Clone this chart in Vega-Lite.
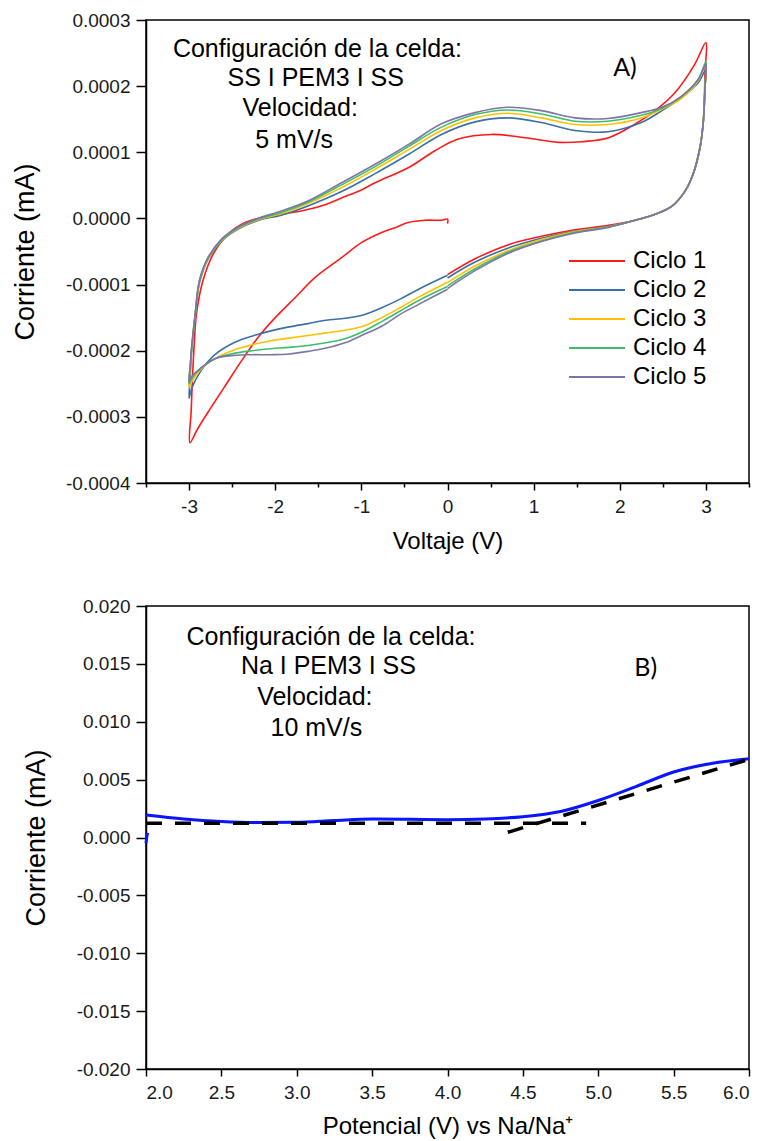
{
  "$schema": "https://vega.github.io/schema/vega-lite/v6.json",
  "background": "white",
  "padding": {"left": 10, "top": 10, "right": 10, "bottom": 0},
  "spacing": 42,
  "config": {
    "view": {"stroke": "#000", "strokeWidth": 1.5},
    "axis": {"grid": false, "domainColor": "#000", "domainWidth": 1.5, "tickColor": "#000", "tickWidth": 1.5, "labelColor": "#1a1a1a", "labelFont": "Liberation Sans", "labelFontSize": 19, "titleFont": "Liberation Sans", "titleFontWeight": "normal", "titleColor": "#000"},
    "axisX": {"titleFontSize": 24, "labelPadding": 7, "titlePadding": 13},
    "axisY": {"titleFontSize": 27, "labelPadding": 6, "titlePadding": 26}
  },
  "resolve": {"scale": {"color": "independent"}, "legend": {"color": "independent"}},
  "vconcat": [
    {
      "width": 603,
      "height": 463,
      "layer": [
        {
          "data": {"values": [
            {"c":"Ciclo 1","i":0,"v":0.0,"a":-0.0000079},
            {"c":"Ciclo 1","i":1,"v":0.0,"a":-0.0000012},
            {"c":"Ciclo 1","i":2,"v":-0.07,"a":-0.0000027},
            {"c":"Ciclo 1","i":3,"v":-0.26,"a":-0.0000027},
            {"c":"Ciclo 1","i":4,"v":-0.46,"a":-0.0000063},
            {"c":"Ciclo 1","i":5,"v":-0.61,"a":-0.000014},
            {"c":"Ciclo 1","i":6,"v":-0.77,"a":-0.0000215},
            {"c":"Ciclo 1","i":7,"v":-1.0,"a":-0.0000366},
            {"c":"Ciclo 1","i":8,"v":-1.23,"a":-0.0000593},
            {"c":"Ciclo 1","i":9,"v":-1.54,"a":-0.0000895},
            {"c":"Ciclo 1","i":10,"v":-1.77,"a":-0.00012},
            {"c":"Ciclo 1","i":11,"v":-2.0,"a":-0.00015},
            {"c":"Ciclo 1","i":12,"v":-2.2,"a":-0.00018},
            {"c":"Ciclo 1","i":13,"v":-2.39,"a":-0.000215},
            {"c":"Ciclo 1","i":14,"v":-2.59,"a":-0.000255},
            {"c":"Ciclo 1","i":15,"v":-2.78,"a":-0.000293},
            {"c":"Ciclo 1","i":16,"v":-2.9,"a":-0.000318},
            {"c":"Ciclo 1","i":17,"v":-2.99,"a":-0.000339},
            {"c":"Ciclo 1","i":18,"v":-2.975,"a":-0.00029},
            {"c":"Ciclo 1","i":19,"v":-2.96,"a":-0.00024},
            {"c":"Ciclo 1","i":20,"v":-2.94,"a":-0.00019},
            {"c":"Ciclo 1","i":21,"v":-2.915,"a":-0.000145},
            {"c":"Ciclo 1","i":22,"v":-2.84,"a":-0.0000945},
            {"c":"Ciclo 1","i":23,"v":-2.72,"a":-0.000054},
            {"c":"Ciclo 1","i":24,"v":-2.55,"a":-0.000024},
            {"c":"Ciclo 1","i":25,"v":-2.35,"a":-0.0000063},
            {"c":"Ciclo 1","i":26,"v":-2.16,"a":0.0000012},
            {"c":"Ciclo 1","i":27,"v":-1.93,"a":0.0000063},
            {"c":"Ciclo 1","i":28,"v":-1.7,"a":0.0000113},
            {"c":"Ciclo 1","i":29,"v":-1.46,"a":0.000019},
            {"c":"Ciclo 1","i":30,"v":-1.23,"a":0.000031},
            {"c":"Ciclo 1","i":31,"v":-1.0,"a":0.000043},
            {"c":"Ciclo 1","i":32,"v":-0.84,"a":0.000054},
            {"c":"Ciclo 1","i":33,"v":-0.45,"a":0.000077},
            {"c":"Ciclo 1","i":34,"v":-0.15,"a":0.000102},
            {"c":"Ciclo 1","i":35,"v":0.125,"a":0.00012},
            {"c":"Ciclo 1","i":36,"v":0.51,"a":0.000127},
            {"c":"Ciclo 1","i":37,"v":0.9,"a":0.000122},
            {"c":"Ciclo 1","i":38,"v":1.29,"a":0.000115},
            {"c":"Ciclo 1","i":39,"v":1.56,"a":0.000116},
            {"c":"Ciclo 1","i":40,"v":1.87,"a":0.000122},
            {"c":"Ciclo 1","i":41,"v":2.17,"a":0.000142},
            {"c":"Ciclo 1","i":42,"v":2.41,"a":0.000163},
            {"c":"Ciclo 1","i":43,"v":2.64,"a":0.00019},
            {"c":"Ciclo 1","i":44,"v":2.87,"a":0.000233},
            {"c":"Ciclo 1","i":45,"v":3.0,"a":0.000266},
            {"c":"Ciclo 1","i":46,"v":2.99,"a":0.000222},
            {"c":"Ciclo 1","i":47,"v":2.97,"a":0.000147},
            {"c":"Ciclo 1","i":48,"v":2.93,"a":0.000105},
            {"c":"Ciclo 1","i":49,"v":2.85,"a":0.000066},
            {"c":"Ciclo 1","i":50,"v":2.76,"a":0.000042},
            {"c":"Ciclo 1","i":51,"v":2.61,"a":0.000019},
            {"c":"Ciclo 1","i":52,"v":2.41,"a":0.0000063},
            {"c":"Ciclo 1","i":53,"v":2.18,"a":-0.0000027},
            {"c":"Ciclo 1","i":54,"v":1.87,"a":-0.0000105},
            {"c":"Ciclo 1","i":55,"v":1.48,"a":-0.000017},
            {"c":"Ciclo 1","i":56,"v":1.09,"a":-0.000027},
            {"c":"Ciclo 1","i":57,"v":0.7,"a":-0.00004},
            {"c":"Ciclo 1","i":58,"v":0.32,"a":-0.000061},
            {"c":"Ciclo 1","i":59,"v":0.0,"a":-0.000085},

            {"c":"Ciclo 2","i":0,"v":0.0,"a":-0.000086},
            {"c":"Ciclo 2","i":1,"v":-0.335,"a":-0.000107},
            {"c":"Ciclo 2","i":2,"v":-0.55,"a":-0.000122},
            {"c":"Ciclo 2","i":3,"v":-0.764,"a":-0.000135},
            {"c":"Ciclo 2","i":4,"v":-0.98,"a":-0.000146},
            {"c":"Ciclo 2","i":5,"v":-1.19,"a":-0.000151},
            {"c":"Ciclo 2","i":6,"v":-1.41,"a":-0.000154},
            {"c":"Ciclo 2","i":7,"v":-1.62,"a":-0.000159},
            {"c":"Ciclo 2","i":8,"v":-1.84,"a":-0.000164},
            {"c":"Ciclo 2","i":9,"v":-2.05,"a":-0.00017},
            {"c":"Ciclo 2","i":10,"v":-2.27,"a":-0.000178},
            {"c":"Ciclo 2","i":11,"v":-2.48,"a":-0.000188},
            {"c":"Ciclo 2","i":12,"v":-2.7,"a":-0.000206},
            {"c":"Ciclo 2","i":13,"v":-2.87,"a":-0.000232},
            {"c":"Ciclo 2","i":14,"v":-2.97,"a":-0.000257},
            {"c":"Ciclo 2","i":15,"v":-3.0,"a":-0.000272},
            {"c":"Ciclo 2","i":16,"v":-2.985,"a":-0.000235},
            {"c":"Ciclo 2","i":17,"v":-2.97,"a":-0.0002},
            {"c":"Ciclo 2","i":18,"v":-2.93,"a":-0.00015},
            {"c":"Ciclo 2","i":19,"v":-2.88,"a":-0.000098},
            {"c":"Ciclo 2","i":20,"v":-2.78,"a":-0.000062},
            {"c":"Ciclo 2","i":21,"v":-2.62,"a":-0.000034},
            {"c":"Ciclo 2","i":22,"v":-2.43,"a":-0.000016},
            {"c":"Ciclo 2","i":23,"v":-2.2,"a":-0.000003},
            {"c":"Ciclo 2","i":24,"v":-1.93,"a":0.000005},
            {"c":"Ciclo 2","i":25,"v":-1.62,"a":0.0000189},
            {"c":"Ciclo 2","i":26,"v":-1.23,"a":0.0000406},
            {"c":"Ciclo 2","i":27,"v":-0.84,"a":0.0000678},
            {"c":"Ciclo 2","i":28,"v":-0.45,"a":0.000097},
            {"c":"Ciclo 2","i":29,"v":-0.07,"a":0.000127},
            {"c":"Ciclo 2","i":30,"v":0.32,"a":0.000146},
            {"c":"Ciclo 2","i":31,"v":0.7,"a":0.000152},
            {"c":"Ciclo 2","i":32,"v":1.09,"a":0.000145},
            {"c":"Ciclo 2","i":33,"v":1.48,"a":0.000133},
            {"c":"Ciclo 2","i":34,"v":1.86,"a":0.000131},
            {"c":"Ciclo 2","i":35,"v":2.25,"a":0.000145},
            {"c":"Ciclo 2","i":36,"v":2.49,"a":0.000163},
            {"c":"Ciclo 2","i":37,"v":2.72,"a":0.000183},
            {"c":"Ciclo 2","i":38,"v":2.91,"a":0.000205},
            {"c":"Ciclo 2","i":39,"v":3.0,"a":0.000225},
            {"c":"Ciclo 2","i":40,"v":2.99,"a":0.0002},
            {"c":"Ciclo 2","i":41,"v":2.97,"a":0.000147},
            {"c":"Ciclo 2","i":42,"v":2.93,"a":0.000107},
            {"c":"Ciclo 2","i":43,"v":2.85,"a":0.0000667},
            {"c":"Ciclo 2","i":44,"v":2.76,"a":0.0000416},
            {"c":"Ciclo 2","i":45,"v":2.61,"a":0.0000189},
            {"c":"Ciclo 2","i":46,"v":2.41,"a":0.0000063},
            {"c":"Ciclo 2","i":47,"v":2.18,"a":-0.0000027},
            {"c":"Ciclo 2","i":48,"v":1.87,"a":-0.000012},
            {"c":"Ciclo 2","i":49,"v":1.48,"a":-0.000019},
            {"c":"Ciclo 2","i":50,"v":1.09,"a":-0.00003},
            {"c":"Ciclo 2","i":51,"v":0.7,"a":-0.000045},
            {"c":"Ciclo 2","i":52,"v":0.32,"a":-0.000066},
            {"c":"Ciclo 2","i":53,"v":0.0,"a":-0.00009},

            {"c":"Ciclo 3","i":0,"v":0.0,"a":-0.0000964},
            {"c":"Ciclo 3","i":1,"v":-0.335,"a":-0.000119},
            {"c":"Ciclo 3","i":2,"v":-0.55,"a":-0.000135},
            {"c":"Ciclo 3","i":3,"v":-0.764,"a":-0.00015},
            {"c":"Ciclo 3","i":4,"v":-0.98,"a":-0.000163},
            {"c":"Ciclo 3","i":5,"v":-1.19,"a":-0.000169},
            {"c":"Ciclo 3","i":6,"v":-1.41,"a":-0.000173},
            {"c":"Ciclo 3","i":7,"v":-1.62,"a":-0.000177},
            {"c":"Ciclo 3","i":8,"v":-1.84,"a":-0.000181},
            {"c":"Ciclo 3","i":9,"v":-2.05,"a":-0.000185},
            {"c":"Ciclo 3","i":10,"v":-2.27,"a":-0.000191},
            {"c":"Ciclo 3","i":11,"v":-2.48,"a":-0.000199},
            {"c":"Ciclo 3","i":12,"v":-2.7,"a":-0.000212},
            {"c":"Ciclo 3","i":13,"v":-2.87,"a":-0.000229},
            {"c":"Ciclo 3","i":14,"v":-2.97,"a":-0.000247},
            {"c":"Ciclo 3","i":15,"v":-3.0,"a":-0.000255},
            {"c":"Ciclo 3","i":16,"v":-2.985,"a":-0.000225},
            {"c":"Ciclo 3","i":17,"v":-2.97,"a":-0.000197},
            {"c":"Ciclo 3","i":18,"v":-2.93,"a":-0.000147},
            {"c":"Ciclo 3","i":19,"v":-2.88,"a":-0.000096},
            {"c":"Ciclo 3","i":20,"v":-2.78,"a":-0.000061},
            {"c":"Ciclo 3","i":21,"v":-2.62,"a":-0.000033},
            {"c":"Ciclo 3","i":22,"v":-2.43,"a":-0.000015},
            {"c":"Ciclo 3","i":23,"v":-2.2,"a":-0.000002},
            {"c":"Ciclo 3","i":24,"v":-1.93,"a":0.000007},
            {"c":"Ciclo 3","i":25,"v":-1.62,"a":0.0000224},
            {"c":"Ciclo 3","i":26,"v":-1.23,"a":0.0000466},
            {"c":"Ciclo 3","i":27,"v":-0.84,"a":0.0000744},
            {"c":"Ciclo 3","i":28,"v":-0.45,"a":0.000104},
            {"c":"Ciclo 3","i":29,"v":-0.07,"a":0.000133},
            {"c":"Ciclo 3","i":30,"v":0.32,"a":0.000152},
            {"c":"Ciclo 3","i":31,"v":0.7,"a":0.000159},
            {"c":"Ciclo 3","i":32,"v":1.09,"a":0.000152},
            {"c":"Ciclo 3","i":33,"v":1.48,"a":0.000142},
            {"c":"Ciclo 3","i":34,"v":1.86,"a":0.000142},
            {"c":"Ciclo 3","i":35,"v":2.25,"a":0.000152},
            {"c":"Ciclo 3","i":36,"v":2.49,"a":0.000165},
            {"c":"Ciclo 3","i":37,"v":2.72,"a":0.000182},
            {"c":"Ciclo 3","i":38,"v":2.91,"a":0.000208},
            {"c":"Ciclo 3","i":39,"v":3.0,"a":0.000235},
            {"c":"Ciclo 3","i":40,"v":2.99,"a":0.0002},
            {"c":"Ciclo 3","i":41,"v":2.97,"a":0.000147},
            {"c":"Ciclo 3","i":42,"v":2.93,"a":0.000107},
            {"c":"Ciclo 3","i":43,"v":2.85,"a":0.0000667},
            {"c":"Ciclo 3","i":44,"v":2.76,"a":0.0000416},
            {"c":"Ciclo 3","i":45,"v":2.61,"a":0.0000189},
            {"c":"Ciclo 3","i":46,"v":2.41,"a":0.0000063},
            {"c":"Ciclo 3","i":47,"v":2.18,"a":-0.0000027},
            {"c":"Ciclo 3","i":48,"v":1.87,"a":-0.0000125},
            {"c":"Ciclo 3","i":49,"v":1.48,"a":-0.00002},
            {"c":"Ciclo 3","i":50,"v":1.09,"a":-0.000032},
            {"c":"Ciclo 3","i":51,"v":0.7,"a":-0.000049},
            {"c":"Ciclo 3","i":52,"v":0.32,"a":-0.000072},
            {"c":"Ciclo 3","i":53,"v":0.0,"a":-0.000097},

            {"c":"Ciclo 4","i":0,"v":0.0,"a":-0.000103},
            {"c":"Ciclo 4","i":1,"v":-0.335,"a":-0.000124},
            {"c":"Ciclo 4","i":2,"v":-0.55,"a":-0.00014},
            {"c":"Ciclo 4","i":3,"v":-0.764,"a":-0.000156},
            {"c":"Ciclo 4","i":4,"v":-0.98,"a":-0.000171},
            {"c":"Ciclo 4","i":5,"v":-1.19,"a":-0.000182},
            {"c":"Ciclo 4","i":6,"v":-1.41,"a":-0.000188},
            {"c":"Ciclo 4","i":7,"v":-1.62,"a":-0.000192},
            {"c":"Ciclo 4","i":8,"v":-1.84,"a":-0.000195},
            {"c":"Ciclo 4","i":9,"v":-2.05,"a":-0.000197},
            {"c":"Ciclo 4","i":10,"v":-2.27,"a":-0.0002},
            {"c":"Ciclo 4","i":11,"v":-2.48,"a":-0.000204},
            {"c":"Ciclo 4","i":12,"v":-2.7,"a":-0.000212},
            {"c":"Ciclo 4","i":13,"v":-2.87,"a":-0.000227},
            {"c":"Ciclo 4","i":14,"v":-2.97,"a":-0.000242},
            {"c":"Ciclo 4","i":15,"v":-3.0,"a":-0.00025},
            {"c":"Ciclo 4","i":16,"v":-2.985,"a":-0.000222},
            {"c":"Ciclo 4","i":17,"v":-2.97,"a":-0.000196},
            {"c":"Ciclo 4","i":18,"v":-2.93,"a":-0.000146},
            {"c":"Ciclo 4","i":19,"v":-2.88,"a":-0.000095},
            {"c":"Ciclo 4","i":20,"v":-2.78,"a":-0.00006},
            {"c":"Ciclo 4","i":21,"v":-2.62,"a":-0.000032},
            {"c":"Ciclo 4","i":22,"v":-2.43,"a":-0.000014},
            {"c":"Ciclo 4","i":23,"v":-2.2,"a":-0.000001},
            {"c":"Ciclo 4","i":24,"v":-1.93,"a":0.000009},
            {"c":"Ciclo 4","i":25,"v":-1.62,"a":0.0000245},
            {"c":"Ciclo 4","i":26,"v":-1.23,"a":0.0000507},
            {"c":"Ciclo 4","i":27,"v":-0.84,"a":0.0000783},
            {"c":"Ciclo 4","i":28,"v":-0.45,"a":0.000109},
            {"c":"Ciclo 4","i":29,"v":-0.07,"a":0.000138},
            {"c":"Ciclo 4","i":30,"v":0.32,"a":0.000157},
            {"c":"Ciclo 4","i":31,"v":0.7,"a":0.000164},
            {"c":"Ciclo 4","i":32,"v":1.09,"a":0.000158},
            {"c":"Ciclo 4","i":33,"v":1.48,"a":0.000147},
            {"c":"Ciclo 4","i":34,"v":1.86,"a":0.000147},
            {"c":"Ciclo 4","i":35,"v":2.25,"a":0.000156},
            {"c":"Ciclo 4","i":36,"v":2.49,"a":0.000166},
            {"c":"Ciclo 4","i":37,"v":2.72,"a":0.000185},
            {"c":"Ciclo 4","i":38,"v":2.91,"a":0.00021},
            {"c":"Ciclo 4","i":39,"v":3.0,"a":0.000237},
            {"c":"Ciclo 4","i":40,"v":2.99,"a":0.0002},
            {"c":"Ciclo 4","i":41,"v":2.97,"a":0.000147},
            {"c":"Ciclo 4","i":42,"v":2.93,"a":0.000107},
            {"c":"Ciclo 4","i":43,"v":2.85,"a":0.0000667},
            {"c":"Ciclo 4","i":44,"v":2.76,"a":0.0000416},
            {"c":"Ciclo 4","i":45,"v":2.61,"a":0.0000189},
            {"c":"Ciclo 4","i":46,"v":2.41,"a":0.0000063},
            {"c":"Ciclo 4","i":47,"v":2.18,"a":-0.0000027},
            {"c":"Ciclo 4","i":48,"v":1.87,"a":-0.000013},
            {"c":"Ciclo 4","i":49,"v":1.48,"a":-0.000021},
            {"c":"Ciclo 4","i":50,"v":1.09,"a":-0.000034},
            {"c":"Ciclo 4","i":51,"v":0.7,"a":-0.000051},
            {"c":"Ciclo 4","i":52,"v":0.32,"a":-0.000076},
            {"c":"Ciclo 4","i":53,"v":0.0,"a":-0.000102},

            {"c":"Ciclo 5","i":0,"v":0.0,"a":-0.000107},
            {"c":"Ciclo 5","i":1,"v":-0.335,"a":-0.00013},
            {"c":"Ciclo 5","i":2,"v":-0.55,"a":-0.000145},
            {"c":"Ciclo 5","i":3,"v":-0.764,"a":-0.000163},
            {"c":"Ciclo 5","i":4,"v":-0.98,"a":-0.000176},
            {"c":"Ciclo 5","i":5,"v":-1.19,"a":-0.000188},
            {"c":"Ciclo 5","i":6,"v":-1.41,"a":-0.000196},
            {"c":"Ciclo 5","i":7,"v":-1.62,"a":-0.000201},
            {"c":"Ciclo 5","i":8,"v":-1.84,"a":-0.000205},
            {"c":"Ciclo 5","i":9,"v":-2.05,"a":-0.000206},
            {"c":"Ciclo 5","i":10,"v":-2.27,"a":-0.000206},
            {"c":"Ciclo 5","i":11,"v":-2.48,"a":-0.000207},
            {"c":"Ciclo 5","i":12,"v":-2.7,"a":-0.000212},
            {"c":"Ciclo 5","i":13,"v":-2.87,"a":-0.000227},
            {"c":"Ciclo 5","i":14,"v":-2.97,"a":-0.000239},
            {"c":"Ciclo 5","i":15,"v":-3.0,"a":-0.000247},
            {"c":"Ciclo 5","i":16,"v":-2.985,"a":-0.00022},
            {"c":"Ciclo 5","i":17,"v":-2.97,"a":-0.000195},
            {"c":"Ciclo 5","i":18,"v":-2.93,"a":-0.000145},
            {"c":"Ciclo 5","i":19,"v":-2.88,"a":-0.000094},
            {"c":"Ciclo 5","i":20,"v":-2.78,"a":-0.000059},
            {"c":"Ciclo 5","i":21,"v":-2.62,"a":-0.000031},
            {"c":"Ciclo 5","i":22,"v":-2.43,"a":-0.000013},
            {"c":"Ciclo 5","i":23,"v":-2.2,"a":0.0},
            {"c":"Ciclo 5","i":24,"v":-1.93,"a":0.0000113},
            {"c":"Ciclo 5","i":25,"v":-1.62,"a":0.0000265},
            {"c":"Ciclo 5","i":26,"v":-1.23,"a":0.000054},
            {"c":"Ciclo 5","i":27,"v":-0.84,"a":0.000082},
            {"c":"Ciclo 5","i":28,"v":-0.45,"a":0.000112},
            {"c":"Ciclo 5","i":29,"v":-0.07,"a":0.000143},
            {"c":"Ciclo 5","i":30,"v":0.32,"a":0.00016},
            {"c":"Ciclo 5","i":31,"v":0.7,"a":0.000168},
            {"c":"Ciclo 5","i":32,"v":1.09,"a":0.000163},
            {"c":"Ciclo 5","i":33,"v":1.48,"a":0.000152},
            {"c":"Ciclo 5","i":34,"v":1.86,"a":0.000151},
            {"c":"Ciclo 5","i":35,"v":2.25,"a":0.00016},
            {"c":"Ciclo 5","i":36,"v":2.49,"a":0.000168},
            {"c":"Ciclo 5","i":37,"v":2.72,"a":0.000185},
            {"c":"Ciclo 5","i":38,"v":2.91,"a":0.00021},
            {"c":"Ciclo 5","i":39,"v":3.0,"a":0.000233},
            {"c":"Ciclo 5","i":40,"v":2.99,"a":0.0002},
            {"c":"Ciclo 5","i":41,"v":2.97,"a":0.000147},
            {"c":"Ciclo 5","i":42,"v":2.93,"a":0.000107},
            {"c":"Ciclo 5","i":43,"v":2.85,"a":0.0000667},
            {"c":"Ciclo 5","i":44,"v":2.76,"a":0.0000416},
            {"c":"Ciclo 5","i":45,"v":2.61,"a":0.0000189},
            {"c":"Ciclo 5","i":46,"v":2.41,"a":0.0000063},
            {"c":"Ciclo 5","i":47,"v":2.18,"a":-0.0000027},
            {"c":"Ciclo 5","i":48,"v":1.87,"a":-0.0000135},
            {"c":"Ciclo 5","i":49,"v":1.48,"a":-0.000022},
            {"c":"Ciclo 5","i":50,"v":1.09,"a":-0.000035},
            {"c":"Ciclo 5","i":51,"v":0.7,"a":-0.000053},
            {"c":"Ciclo 5","i":52,"v":0.32,"a":-0.000079},
            {"c":"Ciclo 5","i":53,"v":0.0,"a":-0.000106}
          ]},
          "mark": {"type": "line", "strokeWidth": 1.6, "interpolate": "catmull-rom"},
          "encoding": {
            "x": {"field": "v", "type": "quantitative",
              "scale": {"domain": [-3.5, 3.5], "nice": false, "zero": false},
              "axis": {"title": "Voltaje (V)",
                "values": [-3.5,-3,-2.5,-2,-1.5,-1,-0.5,0,0.5,1,1.5,2,2.5,3,3.5],
                "labelExpr": "datum.value % 1 == 0 ? replace(format(datum.value, 'd'), '\u2212', '-') : ''",
                "tickSize": {"condition": {"test": "datum.value % 1 == 0", "value": 7}, "value": 4}}},
            "y": {"field": "a", "type": "quantitative",
              "scale": {"domain": [-0.0004, 0.0003], "nice": false, "zero": false},
              "axis": {"title": "Corriente (mA)",
                "values": [-0.0004,-0.00035,-0.0003,-0.00025,-0.0002,-0.00015,-0.0001,-0.00005,0,0.00005,0.0001,0.00015,0.0002,0.00025,0.0003],
                "labelExpr": "abs(datum.value*10000 - round(datum.value*10000)) < 0.01 ? replace(format(datum.value, '.4f'), '\u2212', '-') : ''",
                "tickSize": {"condition": {"test": "abs(datum.value*10000 - round(datum.value*10000)) < 0.01", "value": 10}, "value": 5}}},
            "color": {"field": "c", "type": "nominal",
              "scale": {"domain": ["Ciclo 1","Ciclo 2","Ciclo 3","Ciclo 4","Ciclo 5"], "range": ["#ff1a1a","#3b6fa8","#ffc000","#3cbf6a","#7e74a8"]},
              "legend": {"orient": "none", "legendX": 422, "legendY": 229, "title": null, "symbolType": "stroke", "symbolSize": 3136, "symbolStrokeWidth": 2, "clipHeight": 24, "rowPadding": 5, "labelFontSize": 24, "labelFont": "Liberation Sans", "labelColor": "#000", "labelOffset": 7, "padding": 0}},
            "order": {"field": "i", "type": "quantitative"}
          }
        },
        {
          "data": {"values": [
            {"t": "Configuración de la celda:", "v": -1.51, "a": 0.0002567},
            {"t": "SS I PEM3 I SS", "v": -1.53, "a": 0.0002124},
            {"t": "Velocidad:", "v": -1.71, "a": 0.0001671},
            {"t": "5 mV/s", "v": -1.78, "a": 0.0001187}
          ]},
          "mark": {"type": "text", "font": "Liberation Sans", "fontSize": 25, "color": "#000", "align": "center", "baseline": "middle"},
          "encoding": {
            "x": {"field": "v", "type": "quantitative"},
            "y": {"field": "a", "type": "quantitative"},
            "text": {"field": "t"}
          }
        },
        {
          "data": {"values": [{"t": "A)", "v": 2.06, "a": 0.000228}]},
          "mark": {"type": "text", "font": "Lato", "fontSize": 25, "color": "#000", "align": "center", "baseline": "middle"},
          "encoding": {
            "x": {"field": "v", "type": "quantitative"},
            "y": {"field": "a", "type": "quantitative"},
            "text": {"field": "t"}
          }
        }
      ]
    },
    {
      "width": 603,
      "height": 463,
      "layer": [
        {
          "data": {"values": [
            {"s":"hook","i":0,"p":2.0,"j":-0.0005},
            {"s":"hook","i":1,"p":2.006,"j":0.0001},
            {"s":"hook","i":2,"p":2.012,"j":0.0004},
            {"s":"main","i":0,"p":2.0,"j":0.00194},
            {"s":"main","i":1,"p":2.25,"j":0.0016},
            {"s":"main","i":2,"p":2.5,"j":0.00138},
            {"s":"main","i":3,"p":2.75,"j":0.00129},
            {"s":"main","i":4,"p":3.0,"j":0.00132},
            {"s":"main","i":5,"p":3.25,"j":0.00147},
            {"s":"main","i":6,"p":3.5,"j":0.0016},
            {"s":"main","i":7,"p":3.75,"j":0.00157},
            {"s":"main","i":8,"p":4.0,"j":0.00154},
            {"s":"main","i":9,"p":4.25,"j":0.0016},
            {"s":"main","i":10,"p":4.5,"j":0.0018},
            {"s":"main","i":11,"p":4.75,"j":0.00225},
            {"s":"main","i":12,"p":5.0,"j":0.0032},
            {"s":"main","i":13,"p":5.25,"j":0.0044},
            {"s":"main","i":14,"p":5.5,"j":0.00566},
            {"s":"main","i":15,"p":5.75,"j":0.0064},
            {"s":"main","i":16,"p":6.0,"j":0.0068}
          ]},
          "mark": {"type": "line", "color": "#0a14ff", "strokeWidth": 3, "interpolate": "monotone"},
          "encoding": {
            "x": {"field": "p", "type": "quantitative",
              "scale": {"domain": [2, 6], "nice": false, "zero": false},
              "axis": {"title": "Potencial (V) vs Na/Na\u207a", "titlePadding": 12,
                "values": [2,2.25,2.5,2.75,3,3.25,3.5,3.75,4,4.25,4.5,4.75,5,5.25,5.5,5.75,6],
                "labelExpr": "abs(datum.value*2 - round(datum.value*2)) < 0.01 ? format(datum.value, '.1f') : ''",
                "tickSize": {"condition": {"test": "abs(datum.value*2 - round(datum.value*2)) < 0.01", "value": 7}, "value": 4}}},
            "y": {"field": "j", "type": "quantitative",
              "scale": {"domain": [-0.02, 0.02], "nice": false, "zero": false},
              "axis": {"title": "Corriente (mA)",
                "values": [-0.02,-0.0175,-0.015,-0.0125,-0.01,-0.0075,-0.005,-0.0025,0,0.0025,0.005,0.0075,0.01,0.0125,0.015,0.0175,0.02],
                "labelExpr": "abs(datum.value*200 - round(datum.value*200)) < 0.01 ? replace(format(datum.value, '.3f'), '\u2212', '-') : ''",
                "tickSize": {"condition": {"test": "abs(datum.value*200 - round(datum.value*200)) < 0.01", "value": 10}, "value": 5}}},
            "detail": {"field": "s"},
            "order": {"field": "i", "type": "quantitative"}
          }
        },
        {
          "data": {"values": [
            {"s":"h","i":0,"p":2.0,"j":0.00123},
            {"s":"h","i":1,"p":4.92,"j":0.00123},
            {"s":"t","i":0,"p":4.4,"j":0.00045},
            {"s":"t","i":1,"p":6.0,"j":0.00675}
          ]},
          "mark": {"type": "line", "color": "#000", "strokeWidth": 3.5, "strokeDash": [16, 13]},
          "encoding": {
            "x": {"field": "p", "type": "quantitative"},
            "y": {"field": "j", "type": "quantitative"},
            "detail": {"field": "s"},
            "order": {"field": "i", "type": "quantitative"}
          }
        },
        {
          "data": {"values": [
            {"t": "Configuración de la celda:", "p": 3.227, "j": 0.0173},
            {"t": "Na I PEM3 I SS", "p": 3.21, "j": 0.01482},
            {"t": "Velocidad:", "p": 3.12, "j": 0.01218},
            {"t": "10 mV/s", "p": 3.13, "j": 0.00948}
          ]},
          "mark": {"type": "text", "font": "Liberation Sans", "fontSize": 25, "color": "#000", "align": "center", "baseline": "middle"},
          "encoding": {
            "x": {"field": "p", "type": "quantitative"},
            "y": {"field": "j", "type": "quantitative"},
            "text": {"field": "t"}
          }
        },
        {
          "data": {"values": [{"t": "B)", "p": 5.315, "j": 0.01466}]},
          "mark": {"type": "text", "font": "Lato", "fontSize": 25, "color": "#000", "align": "center", "baseline": "middle"},
          "encoding": {
            "x": {"field": "p", "type": "quantitative"},
            "y": {"field": "j", "type": "quantitative"},
            "text": {"field": "t"}
          }
        }
      ]
    }
  ]
}
